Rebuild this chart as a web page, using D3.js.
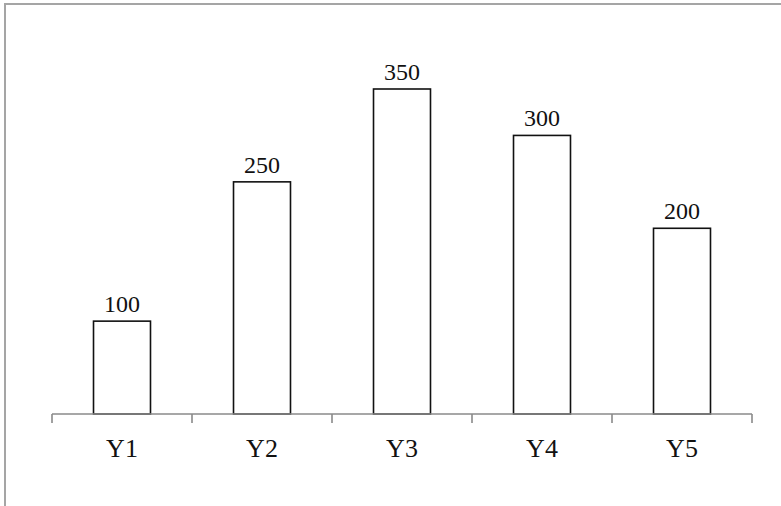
<!DOCTYPE html>
<html>
<head>
<meta charset="utf-8">
<title>Bar chart</title>
<script src="https://cdnjs.cloudflare.com/ajax/libs/d3/7.8.5/d3.min.js"></script>
<style>
  body { margin: 0; background: #fff; }
  text { font-family: "Liberation Serif", "Times New Roman", serif; fill: #111; }
</style>
</head>
<body>
<script>
var categories = ["Y1", "Y2", "Y3", "Y4", "Y5"];
var values = [100, 250, 350, 300, 200];

var W = 781, H = 506;
var baseY = 414;

var svg = d3.select("body").append("svg")
    .attr("width", W)
    .attr("height", H);

// frame (only left and top edges show inside the window)
svg.append("rect")
    .attr("x", 5).attr("y", 4)
    .attr("width", 900).attr("height", 700)
    .attr("fill", "none")
    .attr("stroke", "#a5a5a5")
    .attr("stroke-width", 2);

var x = d3.scaleBand()
    .domain(categories)
    .range([52, 752])
    .paddingInner(0.593)
    .paddingOuter(0.2965);

var y = d3.scaleLinear()
    .domain([0, 350])
    .range([baseY, 89]);

// bars
svg.selectAll("rect.bar")
    .data(values)
    .enter().append("rect")
    .attr("class", "bar")
    .attr("x", function(d, i) { return x(categories[i]); })
    .attr("y", function(d) { return y(d); })
    .attr("width", x.bandwidth())
    .attr("height", function(d) { return baseY - y(d); })
    .attr("fill", "#fff")
    .attr("stroke", "#111")
    .attr("stroke-width", 1.6);

// value labels
svg.selectAll("text.val")
    .data(values)
    .enter().append("text")
    .attr("class", "val")
    .attr("x", function(d, i) { return x(categories[i]) + x.bandwidth() / 2; })
    .attr("y", function(d) { return y(d) - 9; })
    .attr("text-anchor", "middle")
    .style("font-size", "24px")
    .text(function(d) { return d; });

// axis line with ticks at band boundaries
var step = x.step();
var bounds = categories.map(function(c) { return x(c) - x.paddingOuter() * step; });
bounds.push(x.range()[1]);

svg.append("line")
    .attr("x1", x.range()[0]).attr("x2", x.range()[1])
    .attr("y1", baseY).attr("y2", baseY)
    .attr("stroke", "#8a8a8a")
    .attr("stroke-width", 1.6);

svg.selectAll("line.tick")
    .data(bounds)
    .enter().append("line")
    .attr("class", "tick")
    .attr("x1", function(d) { return d; }).attr("x2", function(d) { return d; })
    .attr("y1", baseY).attr("y2", baseY + 9)
    .attr("stroke", "#8a8a8a")
    .attr("stroke-width", 1.6);

// category labels
var xAxis = svg.append("g")
    .attr("transform", "translate(0," + baseY + ")")
    .call(d3.axisBottom(x).tickSize(0).tickPadding(24.5));
xAxis.select(".domain").remove();
xAxis.selectAll("text")
    .style("font-size", "26px")
    .style("font-family", "'Liberation Serif', 'Times New Roman', serif")
    .attr("fill", "#111");
</script>
</body>
</html>
